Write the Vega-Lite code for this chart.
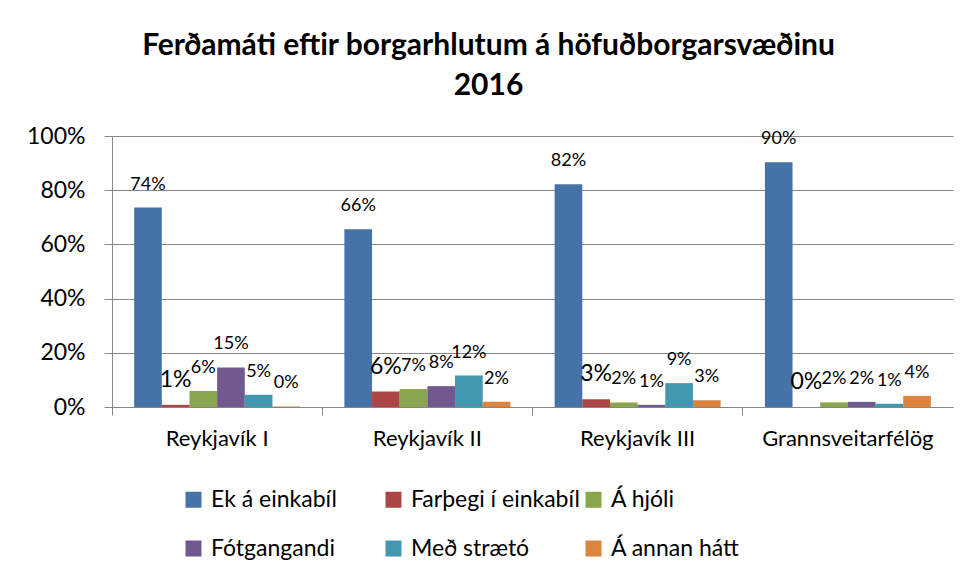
{
  "$schema": "https://vega.github.io/schema/vega-lite/v6.json",
  "width": 841,
  "height": 271,
  "autosize": "none",
  "padding": {"left": 112, "top": 136, "right": 19, "bottom": 172},
  "background": "white",
  "title": {
    "text": ["Ferðamáti eftir borgarhlutum á höfuðborgarsvæðinu", "2016"],
    "font": "Lato",
    "fontSize": 30,
    "fontWeight": "bold",
    "color": "#000000",
    "anchor": "middle",
    "dx": -44,
    "offset": 24,
    "lineHeight": 40
  },
  "data": {
    "values": [
      {"area": "Reykjavík I", "mode": "Ek á einkabíl", "value": 0.736, "label": "74%"},
      {"area": "Reykjavík I", "mode": "Farþegi í einkabíl", "value": 0.008, "label": "1%"},
      {"area": "Reykjavík I", "mode": "Á hjóli", "value": 0.059, "label": "6%"},
      {"area": "Reykjavík I", "mode": "Fótgangandi", "value": 0.146, "label": "15%"},
      {"area": "Reykjavík I", "mode": "Með strætó", "value": 0.045, "label": "5%"},
      {"area": "Reykjavík I", "mode": "Á annan hátt", "value": 0.002, "label": "0%"},
      {"area": "Reykjavík II", "mode": "Ek á einkabíl", "value": 0.656, "label": "66%"},
      {"area": "Reykjavík II", "mode": "Farþegi í einkabíl", "value": 0.057, "label": "6%"},
      {"area": "Reykjavík II", "mode": "Á hjóli", "value": 0.066, "label": "7%"},
      {"area": "Reykjavík II", "mode": "Fótgangandi", "value": 0.077, "label": "8%"},
      {"area": "Reykjavík II", "mode": "Með strætó", "value": 0.116, "label": "12%"},
      {"area": "Reykjavík II", "mode": "Á annan hátt", "value": 0.019, "label": "2%"},
      {"area": "Reykjavík III", "mode": "Ek á einkabíl", "value": 0.822, "label": "82%"},
      {"area": "Reykjavík III", "mode": "Farþegi í einkabíl", "value": 0.029, "label": "3%"},
      {"area": "Reykjavík III", "mode": "Á hjóli", "value": 0.017, "label": "2%"},
      {"area": "Reykjavík III", "mode": "Fótgangandi", "value": 0.008, "label": "1%"},
      {"area": "Reykjavík III", "mode": "Með strætó", "value": 0.088, "label": "9%"},
      {"area": "Reykjavík III", "mode": "Á annan hátt", "value": 0.025, "label": "3%"},
      {"area": "Grannsveitarfélög", "mode": "Ek á einkabíl", "value": 0.903, "label": "90%"},
      {"area": "Grannsveitarfélög", "mode": "Farþegi í einkabíl", "value": 0.0, "label": "0%"},
      {"area": "Grannsveitarfélög", "mode": "Á hjóli", "value": 0.017, "label": "2%"},
      {"area": "Grannsveitarfélög", "mode": "Fótgangandi", "value": 0.019, "label": "2%"},
      {"area": "Grannsveitarfélög", "mode": "Með strætó", "value": 0.012, "label": "1%"},
      {"area": "Grannsveitarfélög", "mode": "Á annan hátt", "value": 0.041, "label": "4%"}
    ]
  },
  "encoding": {
    "x": {
      "field": "area",
      "type": "nominal",
      "sort": ["Reykjavík I", "Reykjavík II", "Reykjavík III", "Grannsveitarfélög"],
      "scale": {"paddingInner": 0, "paddingOuter": 0},
      "axis": {
        "title": null,
        "labelAngle": 0,
        "labelFont": "Lato",
        "labelFontSize": 22,
        "labelColor": "#000000",
        "labelPadding": 13,
        "bandPosition": 0,
        "ticks": true,
        "tickSize": 8,
        "tickColor": "#868686",
        "domainColor": "#868686",
        "grid": false
      }
    },
    "xOffset": {
      "field": "mode",
      "type": "nominal",
      "sort": ["Ek á einkabíl", "Farþegi í einkabíl", "Á hjóli", "Fótgangandi", "Með strætó", "Á annan hátt"],
      "scale": {"paddingInner": 0, "paddingOuter": 0.8}
    },
    "y": {
      "field": "value",
      "type": "quantitative",
      "scale": {"domain": [0, 1], "nice": false},
      "axis": {
        "title": null,
        "format": ".0%",
        "values": [0, 0.2, 0.4, 0.6, 0.8, 1],
        "labelFont": "Lato",
        "labelFontSize": 23,
        "labelColor": "#000000",
        "labelPadding": 19,
        "tickSize": 8,
        "tickColor": "#868686",
        "domainColor": "#868686",
        "gridColor": "#868686",
        "gridWidth": 1.2
      }
    }
  },
  "layer": [
    {
      "mark": {"type": "bar"},
      "encoding": {
        "color": {
          "field": "mode",
          "type": "nominal",
          "scale": {
            "domain": ["Ek á einkabíl", "Farþegi í einkabíl", "Á hjóli", "Fótgangandi", "Með strætó", "Á annan hátt"],
            "range": ["#4572A7", "#AA4643", "#89A54E", "#71588F", "#4198AF", "#DB843D"]
          },
          "legend": {
            "title": null,
            "orient": "none",
            "legendX": 70,
            "legendY": 352,
            "direction": "horizontal",
            "columns": 3,
            "gridAlign": "all",
            "columnPadding": 2,
            "rowPadding": 25,
            "symbolType": "square",
            "symbolSize": 256,
            "symbolStrokeWidth": 0,
            "symbolOffset": 0,
            "labelOffset": 6,
            "labelFont": "Lato",
            "labelFontSize": 23,
            "labelColor": "#000000",
            "labelLimit": 300
          }
        }
      }
    },
    {
      "mark": {"type": "text", "baseline": "alphabetic", "dy": -18, "font": "Lato", "color": "#000000"},
      "encoding": {
        "text": {"field": "label"},
        "size": {
          "condition": {"test": "datum.mode === 'Farþegi í einkabíl'", "value": 23},
          "value": 18
        }
      }
    }
  ],
  "config": {
    "view": {"stroke": null}
  }
}
